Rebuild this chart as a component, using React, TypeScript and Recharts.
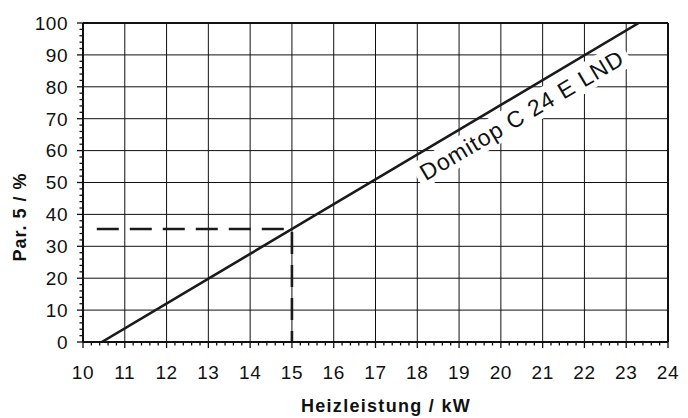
import React from "react"
import { LineChart, Line, XAxis, YAxis, CartesianGrid, ReferenceLine, ReferenceDot } from "recharts"

// Kennlinie Domitop C 24 E LND
const curvePoints = [
  { kw: 10.45, par: 0 },
  { kw: 23.3, par: 100 },
]

// Ablesebeispiel 15 kW -> Par. 5 ca. 35 %
const readingPoints = [
  { kw: 10.33, par: 35.4 },
  { kw: 15, par: 35.4 },
  { kw: 15, par: 0 },
]

const xMajorTicks = [10, 11, 12, 13, 14, 15, 16, 17, 18, 19, 20, 21, 22, 23, 24]
const yMajorTicks = [0, 10, 20, 30, 40, 50, 60, 70, 80, 90, 100]

const curveLabel = "Domitop C 24 E LND"
const labelAnchor = { kw: 20.5, par: 71.2 }

const xTitle = "Heizleistung / kW"
const yTitle = "Par. 5 / %"

const FONT = "'Liberation Sans', Arial, Helvetica, sans-serif"

// minor ticks: 0.2 kW steps, 2 % steps
const xTicks: number[] = []
for (let i = 0; i <= 70; i++) xTicks.push(Math.round((10 + i * 0.2) * 10) / 10)
const yTicks: number[] = []
for (let i = 0; i <= 50; i++) yTicks.push(i * 2)

function XTick(props: any) {
  const { x, y, payload } = props
  const v = payload.value
  const major = Math.abs(v - Math.round(v)) < 1e-6
  return (
    <g>
      <line x1={x} x2={x} y1={y} y2={y + (major ? 6 : 3.5)} stroke="#111" strokeWidth={1.3} />
      {major && (
        <text x={x} y={y + 37} textAnchor="middle" fontSize={19} fontFamily={FONT} fill="#111" letterSpacing={0.6}>
          {v}
        </text>
      )}
    </g>
  )
}

function YTick(props: any) {
  const { x, y, payload } = props
  const v = payload.value
  const major = v % 10 === 0
  return (
    <g>
      <line x1={x - (major ? 6 : 3.5)} x2={x} y1={y} y2={y} stroke="#111" strokeWidth={1.3} />
      {major && (
        <text x={x - 15} y={y} dy="0.36em" textAnchor="end" fontSize={19} fontFamily={FONT} fill="#111" letterSpacing={0.5}>
          {v}
        </text>
      )}
    </g>
  )
}

function CurveLabel(props: any) {
  const { viewBox } = props
  const cx = viewBox.x + (viewBox.width || 0) / 2
  const cy = viewBox.y + (viewBox.height || 0) / 2
  return (
    <g transform={`translate(${cx},${cy}) rotate(-30.6)`}>
      <rect x={-122} y={-14} width={244} height={28} fill="#fff" />
      <text x={0} y={0} dy="0.36em" textAnchor="middle" fontSize={23} fontFamily={FONT} fill="#111" letterSpacing={1}>
        {curveLabel}
      </text>
    </g>
  )
}

export default function App() {
  return (
    <div style={{ position: "absolute", left: 0, top: 0, width: 688, height: 418, background: "#fff" }}>
      <LineChart width={688} height={418} margin={{ top: 23, right: 20, left: 0, bottom: 0 }}>
        <CartesianGrid
          stroke="#111"
          strokeWidth={1}
          horizontalValues={yMajorTicks}
          verticalValues={xMajorTicks}
        />
        <XAxis
          type="number"
          dataKey="kw"
          domain={[10, 24]}
          ticks={xTicks}
          interval={0}
          height={76}
          tickSize={0}
          tickMargin={0}
          tickLine={false}
          tick={<XTick />}
          axisLine={{ stroke: "#111", strokeWidth: 2 }}
          allowDataOverflow
          label={{
            content: () => (
              <text x={386} y={412} textAnchor="middle" fontSize={18} fontWeight="bold" fontFamily={FONT} fill="#111" letterSpacing={1.3}>
                {xTitle}
              </text>
            ),
          }}
        />
        <YAxis
          type="number"
          domain={[0, 100]}
          ticks={yTicks}
          interval={0}
          width={83}
          tickSize={0}
          tickMargin={0}
          tickLine={false}
          tick={<YTick />}
          axisLine={{ stroke: "#111", strokeWidth: 2 }}
          allowDataOverflow
          label={{
            content: () => (
              <text
                x={0}
                y={0}
                transform="translate(26,217) rotate(-90)"
                textAnchor="middle"
                fontSize={18}
                fontWeight="bold"
                fontFamily={FONT}
                fill="#111"
                letterSpacing={1}
              >
                {yTitle}
              </text>
            ),
          }}
        />
        <ReferenceLine y={100} stroke="#111" strokeWidth={2} />
        <ReferenceLine x={24} stroke="#111" strokeWidth={2} />
        <ReferenceDot
          x={labelAnchor.kw}
          y={labelAnchor.par}
          r={0}
          fill="none"
          stroke="none"
          label={<CurveLabel />}
        />
        <Line
          data={readingPoints}
          dataKey="par"
          type="linear"
          stroke="#1a1a1a"
          strokeWidth={2.6}
          strokeDasharray="22 11"
          dot={false}
          activeDot={false}
          isAnimationActive={false}
        />
        <Line
          data={curvePoints}
          dataKey="par"
          type="linear"
          stroke="#1a1a1a"
          strokeWidth={2.6}
          dot={false}
          activeDot={false}
          isAnimationActive={false}
        />
      </LineChart>
    </div>
  )
}
